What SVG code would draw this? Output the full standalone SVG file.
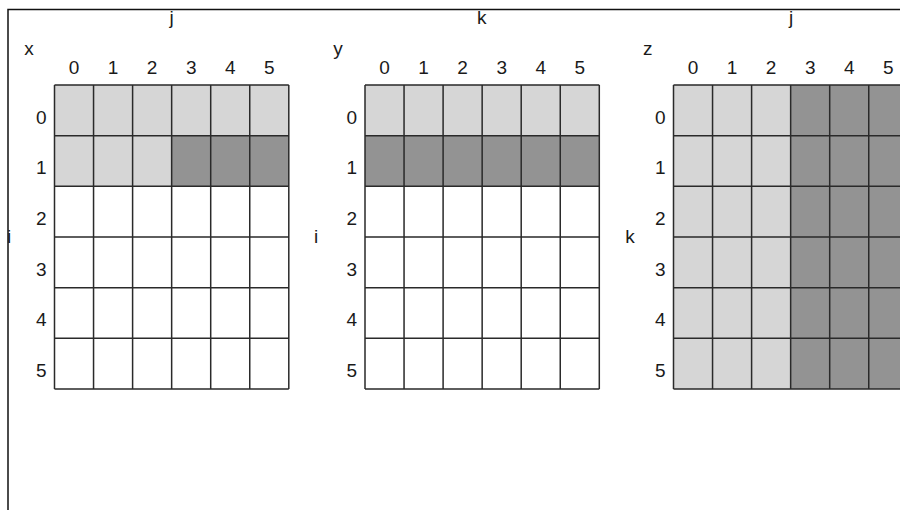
<svg xmlns="http://www.w3.org/2000/svg" xmlns:xlink="http://www.w3.org/1999/xlink" width="900" height="510" viewBox="0 0 900 510">
<style>
text{font-family:"Liberation Sans",Arial,sans-serif;font-size:19px;fill:#1a1a1a;text-anchor:middle}
.l{fill:#d6d6d6}
.d{fill:#939393}
.g{fill:none;stroke:#2a2a2a;stroke-width:1.5}
.f{fill:none;stroke:#111;stroke-width:1.5}
</style>
<defs>
<path id="lines" class="g" d="M0,0H234.3M0,50.67H234.3M0,101.33H234.3M0,152H234.3M0,202.67H234.3M0,253.33H234.3M0,304H234.3M0,0V304M39.05,0V304M78.1,0V304M117.15,0V304M156.2,0V304M195.25,0V304M234.3,0V304"/>
<g id="collabels">
<text x="19.5" y="-11">0</text><text x="58.6" y="-11">1</text><text x="97.6" y="-11">2</text><text x="136.7" y="-11">3</text><text x="175.7" y="-11">4</text><text x="214.8" y="-11">5</text>
</g>
<g id="rowlabels">
<text x="-13.3" y="38.5">0</text><text x="-13.3" y="89.2">1</text><text x="-13.3" y="139.8">2</text><text x="-13.3" y="190.5">3</text><text x="-13.3" y="241.2">4</text><text x="-13.3" y="291.8">5</text>
</g>
</defs>
<path class="f" d="M8,510V9.5H900"/>
<g id="grid-x" transform="translate(54.5,85)">
<rect class="l" x="0" y="0" width="234.3" height="101.33"/>
<rect class="d" x="117.15" y="50.67" width="117.15" height="50.67"/>
<use xlink:href="#lines"/>
<use xlink:href="#collabels"/>
<use xlink:href="#rowlabels"/>
</g>
<g id="grid-y" transform="translate(365,85)">
<rect class="l" x="0" y="0" width="234.3" height="50.67"/>
<rect class="d" x="0" y="50.67" width="234.3" height="50.67"/>
<use xlink:href="#lines"/>
<use xlink:href="#collabels"/>
<use xlink:href="#rowlabels"/>
</g>
<g id="grid-z" transform="translate(673.5,85)">
<rect class="l" x="0" y="0" width="117.15" height="304"/>
<rect class="d" x="117.15" y="0" width="117.15" height="304"/>
<use xlink:href="#lines"/>
<use xlink:href="#collabels"/>
<use xlink:href="#rowlabels"/>
</g>
<g id="axis-labels">
<text x="29" y="55">x</text>
<text x="171.7" y="24">j</text>
<text x="9" y="243">i</text>
<text x="338" y="55">y</text>
<text x="481.7" y="24">k</text>
<text x="316" y="243">i</text>
<text x="647.7" y="55">z</text>
<text x="791" y="24">j</text>
<text x="630" y="243">k</text>
</g>
</svg>
